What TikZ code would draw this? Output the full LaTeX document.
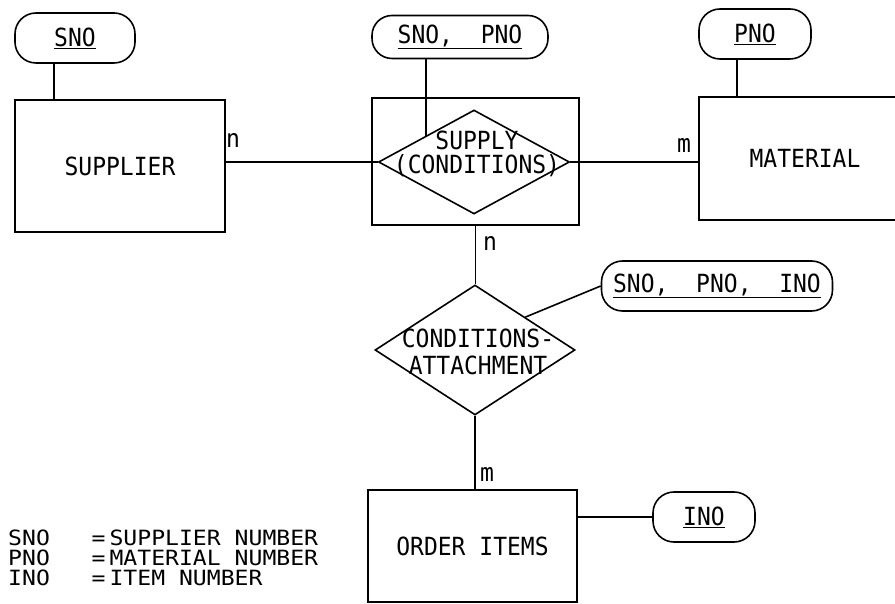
\documentclass[tikz,border=0pt]{standalone}
\usepackage{fontspec}
\setmainfont{DejaVu Sans Mono}[FakeStretch=0.92]
\newfontfamily\legendfont{DejaVu Sans Mono}[FakeStretch=1.1]
\usetikzlibrary{shapes.geometric}

\begin{document}
\begin{tikzpicture}[
  x=1pt, y=1pt,
  every node/.style={font=\fontsize{25}{25}\selectfont},
  entity/.style={draw, line width=1.6pt, inner sep=0pt},
  relship/.style={draw, diamond, line width=1.6pt, inner sep=0pt},
  attr/.style={draw, rounded corners=21pt, line width=1.6pt,
               minimum height=50pt, inner sep=0pt},
  link/.style={line width=1.6pt},
  card/.style={inner sep=0pt},
]

%% ── Page (1pt = 1px of the sketch) ──────────────────────────────────────────
\clip (0,0) rectangle (895,603);

%% ════════════════════════════════════════════════════════════════════════════
%% TOP ROW — entities and the supply relationship
%% ════════════════════════════════════════════════════════════════════════════
\node[entity, minimum width=210pt, minimum height=132pt]
  (supplier) at (120, 437) {SUPPLIER};
\node[entity, minimum width=212pt, minimum height=123pt]
  (material) at (805, 444.5) {MATERIAL};

%% Frame round the diamond
\node[entity, minimum width=207pt, minimum height=127pt]
  (frame) at (475.5, 441.5) {};
\node[relship, minimum width=191pt, minimum height=104pt]
  (supply) at (474, 441) {};
\node[align=center, font=\fontsize{25}{24}\selectfont]
  (supplytxt) at (477, 449) {SUPPLY\\(CONDITIONS)};

%% Keys
\node[attr, minimum width=120pt] (sno) at (75, 565) {\underline{SNO}};
\node[attr, minimum width=176pt, minimum height=43pt, rounded corners=20pt]
  (snopno) at (460, 566) {\underline{SNO,\ \ PNO}};
\node[attr, minimum width=112pt] (pno) at (755, 569) {\underline{PNO}};

%% Connectors
\draw[link] (supply.west) -- (supply.west -| supplier.east);
\draw[link] (supply.east) -- (supply.east -| material.west);
\draw[link] (snopno.south -| supply.north west) -- (supply.north west);

\coordinate (snofoot) at ([xshift=40pt]supplier.north west);
\draw[link] (snofoot) -- (snofoot |- sno.south);
\coordinate (pnofoot) at ([xshift=39pt]material.north west);
\draw[link] (pnofoot) -- (pnofoot |- pno.south);

\node[card] (n1) at (233, 462) {n};
\node[card] (m1) at (684, 457) {m};

%% ════════════════════════════════════════════════════════════════════════════
%% MIDDLE — conditions attachment
%% ════════════════════════════════════════════════════════════════════════════
\node[relship, minimum width=200pt, minimum height=130pt]
  (cond) at (475, 253) {};
\node[align=center, font=\fontsize{25}{27}\selectfont]
  (condtxt) at (478, 251) {CONDITIONS-\\ATTACHMENT};

\node[attr, minimum width=231pt] (snopnoino) at (717, 317)
  {\underline{SNO,\ \ PNO,\ \ INO}};

\draw[link] (frame.south) -- (frame.south |- cond.north);
\draw[link] (cond.north east) -- (snopnoino.west);

\node[card] (n2) at (490, 359) {n};

%% ════════════════════════════════════════════════════════════════════════════
%% BOTTOM — order items and legend
%% ════════════════════════════════════════════════════════════════════════════
\node[entity, minimum width=209pt, minimum height=112pt]
  (order) at (472.5, 57) {ORDER ITEMS};
\node[attr, minimum width=102pt] (ino) at (704, 86) {\underline{INO}};

\draw[link] (cond.south) -- (cond.south |- order.north);
\draw[link] (ino.west) -- (ino.west -| order.east);

\node[card] (m2) at (487, 129) {m};

%% Legend
\node[anchor=west, align=left, inner sep=0pt,
      font=\legendfont\fontsize{21}{20}\selectfont]
  (legend) at (8, 45)
  {SNO\ \ \ =\hspace{4pt}SUPPLIER NUMBER\\
   PNO\ \ \ =\hspace{4pt}MATERIAL NUMBER\\
   INO\ \ \ =\hspace{4pt}ITEM NUMBER};

\end{tikzpicture}
\end{document}
